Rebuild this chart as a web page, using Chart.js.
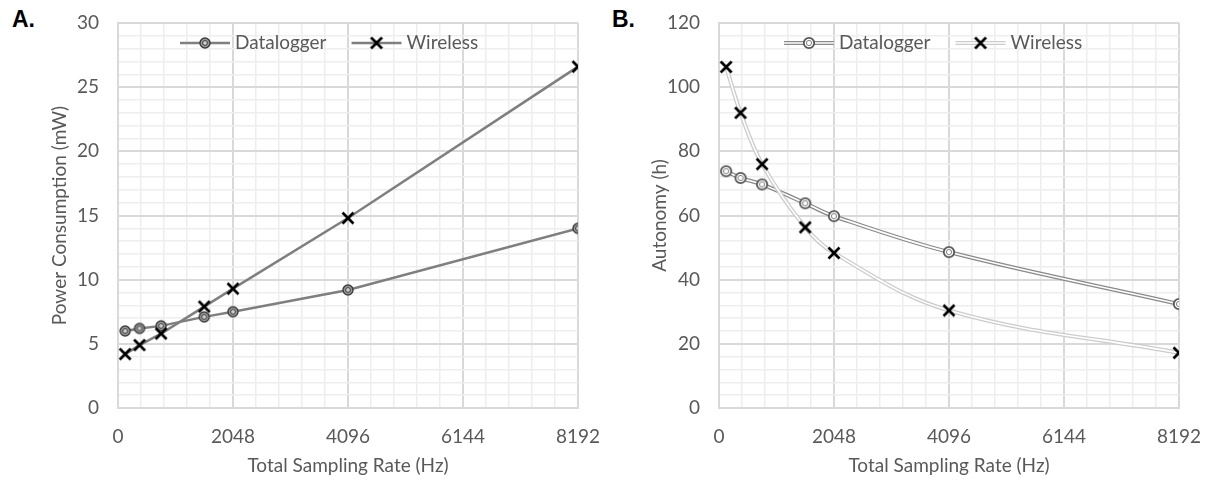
<!DOCTYPE html>
<html><head><meta charset="utf-8">
<script src="https://cdn.jsdelivr.net/npm/chart.js@4.4.0/dist/chart.umd.min.js"></script>
<style>
html,body{margin:0;padding:0;background:#fff;width:1210px;height:484px;overflow:hidden}
.panel{position:absolute;top:0}
.tag{position:absolute;font:bold 23px "Liberation Sans",Arial,sans-serif;color:#000;line-height:23px}
</style></head><body>
<div class="tag" style="left:12px;top:8px">A.</div>
<div class="tag" style="left:612px;top:8px">B.</div>
<div class="panel" style="left:0;width:600px;height:484px"><canvas id="cA" width="600" height="484"></canvas></div>
<div class="panel" style="left:600px;width:610px;height:484px"><canvas id="cB" width="610" height="484"></canvas></div>
<script>
// ---- data ----
const samplingRate = [128, 384, 768, 1536, 2048, 4096, 8192];
const powerDatalogger = [6.0, 6.2, 6.4, 7.1, 7.5, 9.2, 14.0];
const powerWireless = [4.2, 4.9, 5.8, 7.9, 9.3, 14.8, 26.6];
const autonomyDatalogger = [73.8, 71.7, 69.7, 63.8, 59.8, 48.6, 32.4];
const autonomyWireless = [106.3, 92.0, 76.0, 56.3, 48.3, 30.4, 17.2];
const xTickLabels = [0, 2048, 4096, 6144, 8192];
const powerTickLabels = [0, 5, 10, 15, 20, 25, 30];
const autonomyTickLabels = [0, 20, 40, 60, 80, 100, 120];
const seriesNames = ['Datalogger', 'Wireless'];

// ---- styles ----
const FONT = {family: 'Lato, "Open Sans", sans-serif', size: 19};
const TEXT = '#595959';
const GRID_MAJOR = '#d9d9d9', GRID_MINOR = '#eeeeee';

function toXY(xs, ys) { return xs.map((x, i) => ({x, y: ys[i]})); }
function isIn(list, v) { return list.some(t => Math.abs(t - v) < 1e-6); }

function circleMarker(o) {
  const c = document.createElement('canvas'); c.width = 16; c.height = 16;
  const g = c.getContext('2d');
  g.beginPath(); g.arc(8, 8, o.r, 0, Math.PI * 2);
  g.fillStyle = o.fill; g.fill(); g.lineWidth = o.lw; g.strokeStyle = o.stroke; g.stroke();
  g.beginPath(); g.arc(8, 8, o.ri, 0, Math.PI * 2);
  g.fillStyle = o.innerFill; g.fill(); g.lineWidth = o.ilw; g.strokeStyle = o.innerStroke; g.stroke();
  return c;
}
function crossMarker() {
  const c = document.createElement('canvas'); c.width = 16; c.height = 16;
  const g = c.getContext('2d');
  g.strokeStyle = '#000'; g.lineWidth = 2.7;
  g.beginPath(); g.moveTo(2.5, 2.5); g.lineTo(13.5, 13.5); g.moveTo(13.5, 2.5); g.lineTo(2.5, 13.5); g.stroke();
  return c;
}
function legendSymbol(lineStyle, marker) {
  const c = document.createElement('canvas'); c.width = 56; c.height = 16;
  const g = c.getContext('2d');
  lineStyle.forEach(s => {
    g.strokeStyle = s.color; g.lineWidth = s.width;
    g.beginPath(); g.moveTo(3, 8); g.lineTo(53, 8); g.stroke();
  });
  g.drawImage(marker, 28 - marker.width / 2, 8 - marker.height / 2);
  return c;
}

const mDL_A = circleMarker({r: 5, fill: '#9a9a9a', stroke: '#3a3a3a', lw: 1.4, ri: 2.4, innerFill: '#d0d0d0', innerStroke: '#3a3a3a', ilw: 1});
const mDL_B = circleMarker({r: 5.2, fill: '#ffffff', stroke: '#555555', lw: 1.8, ri: 2.6, innerFill: '#ffffff', innerStroke: '#808080', ilw: 1});
const mX = crossMarker();

const lineA = [{color: '#7f7f7f', width: 2.5}];
const lineB_DL = [{color: '#8a8a8a', width: 4.2}, {color: '#ffffff', width: 1.6}];
const lineB_WL = [{color: '#cccccc', width: 4.2}, {color: '#ffffff', width: 1.6}];

function legendPlugin(items, offsetX, offsetY) {
  return {
    id: 'excelLegend',
    afterDraw(chart) {
      const {ctx, chartArea} = chart;
      ctx.save();
      ctx.font = FONT.size + 'px ' + FONT.family;
      ctx.fillStyle = TEXT; ctx.textBaseline = 'middle'; ctx.textAlign = 'left';
      let x = chartArea.left + offsetX;
      const y = chartArea.top + offsetY;
      items.forEach(it => {
        ctx.drawImage(it.symbol, x, y - it.symbol.height / 2);
        x += it.symbol.width + 2;
        ctx.fillText(it.text, x, y);
        x += ctx.measureText(it.text).width + 22;
      });
      ctx.restore();
    }
  };
}

function xScale() {
  return {
    type: 'linear', min: 0, max: 8192,
    ticks: {stepSize: 409.6, autoSkip: false, maxRotation: 0, padding: 17, color: TEXT, font: FONT,
      callback: v => isIn(xTickLabels, v) ? String(Math.round(v)) : ''},
    grid: {drawTicks: false,
      color: c => (c.tick && isIn(xTickLabels, c.tick.value)) ? GRID_MAJOR : GRID_MINOR,
      lineWidth: c => (c.tick && isIn(xTickLabels, c.tick.value)) ? 2 : 1.5},
    border: {color: GRID_MAJOR, width: 2},
    title: {display: true, text: 'Total Sampling Rate (Hz)', color: TEXT, font: FONT, padding: {top: 0, bottom: 7}},
    afterFit: s => { s.height = 76; s.paddingLeft = 0; s.paddingRight = 0; }
  };
}
function yScale(max, step, labels, title, width) {
  return {
    type: 'linear', min: 0, max: max,
    ticks: {stepSize: step, autoSkip: false, padding: 19, color: TEXT, font: FONT,
      callback: v => isIn(labels, v) ? String(Math.round(v)) : ''},
    grid: {drawTicks: false,
      color: c => (c.tick && isIn(labels, c.tick.value)) ? GRID_MAJOR : GRID_MINOR,
      lineWidth: c => (c.tick && isIn(labels, c.tick.value)) ? 2 : 1.5},
    border: {color: GRID_MAJOR, width: 2},
    title: {display: true, text: title, color: TEXT, font: FONT, padding: {top: 48.5, bottom: 0}},
    afterFit: s => { s.width = width; s.paddingTop = 0; s.paddingBottom = 0; }
  };
}

// ---- Chart A ----
new Chart(document.getElementById('cA'), {
  type: 'line',
  data: {datasets: [
    {label: seriesNames[1], data: toXY(samplingRate, powerWireless), borderColor: '#7f7f7f', borderWidth: 2.5,
      pointStyle: mX, pointRadius: 6, tension: 0, order: 0},
    {label: seriesNames[0], data: toXY(samplingRate, powerDatalogger), borderColor: '#7f7f7f', borderWidth: 2.5,
      pointStyle: mDL_A, pointRadius: 6, tension: 0, order: 1}
  ]},
  options: {
    responsive: false, animation: false, devicePixelRatio: 1,
    layout: {autoPadding: false, padding: {top: 23, right: 22, bottom: 0, left: 0}},
    plugins: {legend: {display: false}, tooltip: {enabled: false}},
    scales: {x: xScale(), y: yScale(30, 1, powerTickLabels, 'Power Consumption (mW)', 118)}
  },
  plugins: [legendPlugin([
    {text: seriesNames[0], symbol: legendSymbol(lineA, mDL_A)},
    {text: seriesNames[1], symbol: legendSymbol(lineA, mX)}
  ], 59, 20)]
});

// ---- Chart B ----
const T = 0.38;
new Chart(document.getElementById('cB'), {
  type: 'line',
  data: {datasets: [
    {label: seriesNames[0], data: toXY(samplingRate, autonomyDatalogger), borderColor: lineB_DL[0].color, borderWidth: lineB_DL[0].width, pointRadius: 0, tension: T, order: 5},
    {label: seriesNames[0] + ' core', data: toXY(samplingRate, autonomyDatalogger), borderColor: lineB_DL[1].color, borderWidth: lineB_DL[1].width, pointRadius: 0, tension: T, order: 4},
    {label: seriesNames[1], data: toXY(samplingRate, autonomyWireless), borderColor: lineB_WL[0].color, borderWidth: lineB_WL[0].width, pointRadius: 0, tension: T, order: 3},
    {label: seriesNames[1] + ' core', data: toXY(samplingRate, autonomyWireless), borderColor: lineB_WL[1].color, borderWidth: lineB_WL[1].width, pointRadius: 0, tension: T, order: 2},
    {label: seriesNames[0] + ' markers', data: toXY(samplingRate, autonomyDatalogger), showLine: false, pointStyle: mDL_B, pointRadius: 6, order: 1},
    {label: seriesNames[1] + ' markers', data: toXY(samplingRate, autonomyWireless), showLine: false, pointStyle: mX, pointRadius: 6, order: 0}
  ]},
  options: {
    responsive: false, animation: false, devicePixelRatio: 1,
    layout: {autoPadding: false, padding: {top: 23, right: 31, bottom: 0, left: 0}},
    plugins: {legend: {display: false}, tooltip: {enabled: false}},
    scales: {x: xScale(), y: yScale(120, 4, autonomyTickLabels, 'Autonomy (h)', 119)}
  },
  plugins: [legendPlugin([
    {text: seriesNames[0], symbol: legendSymbol(lineB_DL, mDL_B)},
    {text: seriesNames[1], symbol: legendSymbol(lineB_WL, mX)}
  ], 62, 20)]
});
</script>
</body></html>
